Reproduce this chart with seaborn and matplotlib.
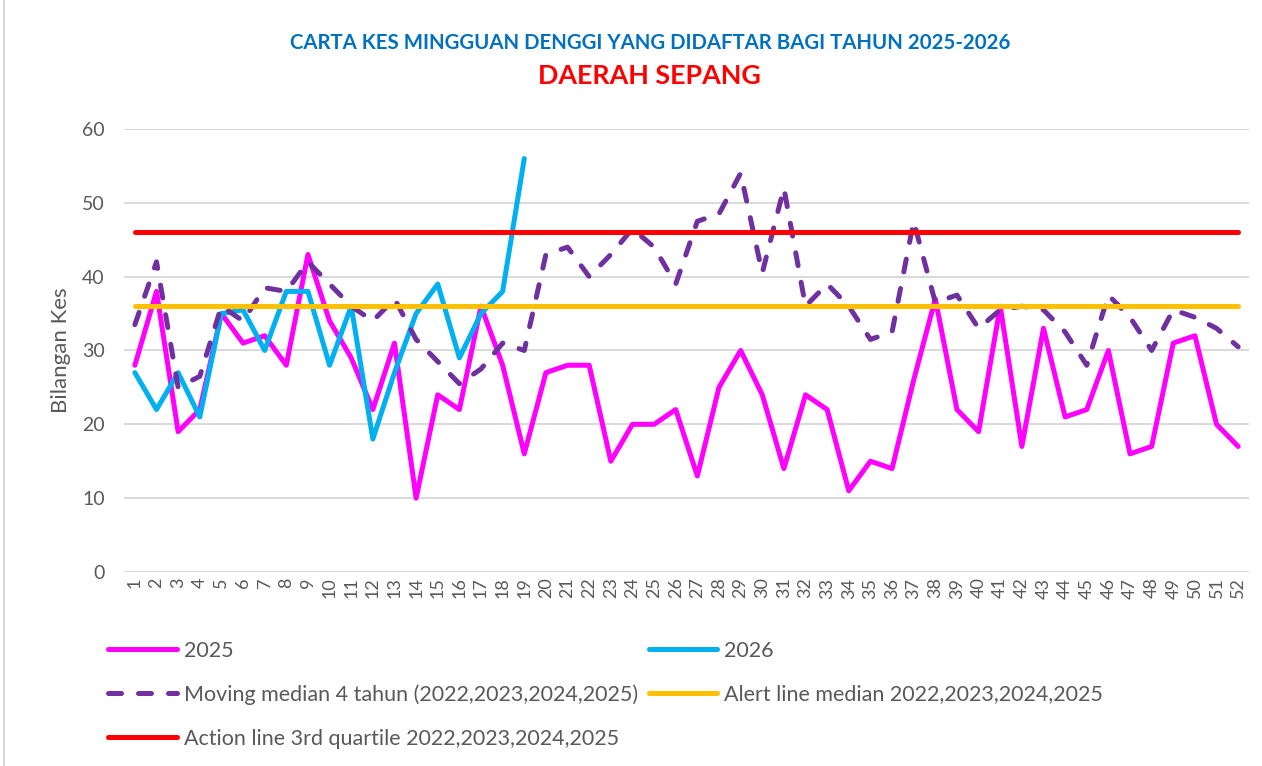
import numpy as np
import pandas as pd
import matplotlib
matplotlib.use("Agg")
import matplotlib.pyplot as plt
import seaborn as sns

# weekly data
weeks = list(range(1, 53))
cases_2025 = [28, 38, 19, 22, 35, 31, 32, 28, 43, 34, 29, 22, 31, 10, 24, 22, 36, 28, 16, 27,
              28, 28, 15, 20, 20, 22, 13, 25, 30, 24, 14, 24, 22, 11, 15, 14, 26, 37, 22, 19,
              36, 17, 33, 21, 22, 30, 16, 17, 31, 32, 20, 17]
cases_2026 = [27, 22, 27, 21, 35, 35.5, 30, 38, 38, 28, 36, 18, 27, 35, 39, 29, 35, 38, 56]
moving_median = [33.5, 42, 25, 26.5, 36, 34, 38.5, 38, 42, 39, 36, 34, 37, 31.5, 28.5, 25.5, 27.5, 31, 30, 43,
                 44, 40, 43, 46.5, 44, 39, 47.5, 48.5, 54, 40.5, 52, 36, 39, 36, 31.5, 32.5, 47.5, 36.5, 37.5, 33,
                 35.5, 36, 35.5, 32.5, 28, 37.5, 34.5, 30, 35.5, 34.5, 33, 30.5]
alert_line = [36] * 52
action_line = [46] * 52

labels = ["2025", "2026", "Moving median 4 tahun (2022,2023,2024,2025)",
          "Alert line median 2022,2023,2024,2025", "Action line 3rd quartile 2022,2023,2024,2025"]

df = pd.DataFrame({"week": weeks, "y2025": cases_2025, "median": moving_median,
                   "alert": alert_line, "action": action_line})
df26 = pd.DataFrame({"week": weeks[:len(cases_2026)], "y2026": cases_2026})

sns.set_theme(style="white")
plt.rcParams["font.family"] = ["Lato", "DejaVu Sans"]

fig = plt.figure(figsize=(12.62, 7.66), dpi=100)
ax = fig.add_axes([0.0983, 0.2533, 0.8914, 0.5783])

lw = 3.6
sns.lineplot(data=df, x="week", y="y2025", color="#FF00FF", lw=lw, ax=ax, label=labels[0],
             solid_joinstyle="round", solid_capstyle="round")
sns.lineplot(data=df26, x="week", y="y2026", color="#00B0F0", lw=lw, ax=ax, label=labels[1],
             solid_joinstyle="round", solid_capstyle="round")
sns.lineplot(data=df, x="week", y="median", color="#7030A0", lw=lw, ax=ax, label=labels[2],
             dashes=False, linestyle=(0, (2.6, 3.4)), dash_capstyle="round")
sns.lineplot(data=df, x="week", y="alert", color="#FFC000", lw=lw, ax=ax, label=labels[3],
             solid_capstyle="round")
sns.lineplot(data=df, x="week", y="action", color="#FF0000", lw=lw, ax=ax, label=labels[4],
             solid_capstyle="round")

ax.set_xlim(0.5, 52.5)
ax.set_ylim(0, 60)
ax.set_yticks(range(0, 61, 10))
ax.set_xticks(weeks)
ax.set_xticklabels([str(w) for w in weeks], rotation=90, fontsize=13, color="#595959")
ax.tick_params(axis="y", labelsize=14, colors="#595959", length=0, pad=14)
ax.tick_params(axis="x", length=0, pad=4)
ax.grid(axis="y", color="#D9D9D9", lw=1.4)
ax.set_axisbelow(True)
for s in ax.spines.values():
    s.set_visible(False)
ax.set_xlabel("")
ax.set_ylabel("Bilangan Kes", fontsize=16, color="#595959", labelpad=8)

# titles
fig.text(0.515, 0.944, "CARTA KES MINGGUAN DENGGI YANG DIDAFTAR BAGI TAHUN 2025-2026",
         ha="center", va="center", fontsize=14.7, fontweight="bold", color="#0070C0")
fig.text(0.515, 0.901, "DAERAH SEPANG", ha="center", va="center",
         fontsize=19.4, fontweight="bold", color="#FF0000")

# legend in row order like the original
h, l = ax.get_legend_handles_labels()
ax.get_legend().remove()
order = [0, 2, 4, 1, 3]
fig.legend([h[i] for i in order], [l[i] for i in order], ncol=2, loc="upper left",
           bbox_to_anchor=(0.0705, 0.189), frameon=False, fontsize=15.5,
           handlelength=3.2, handletextpad=0.3, columnspacing=0.5, labelspacing=1.1,
           labelcolor="#595959")

# thin chart border on the left
fig.add_artist(plt.Line2D([0.003, 0.003], [0, 1], color="#D9D9D9", lw=1.5))

fig.savefig("out.png", dpi=100)
